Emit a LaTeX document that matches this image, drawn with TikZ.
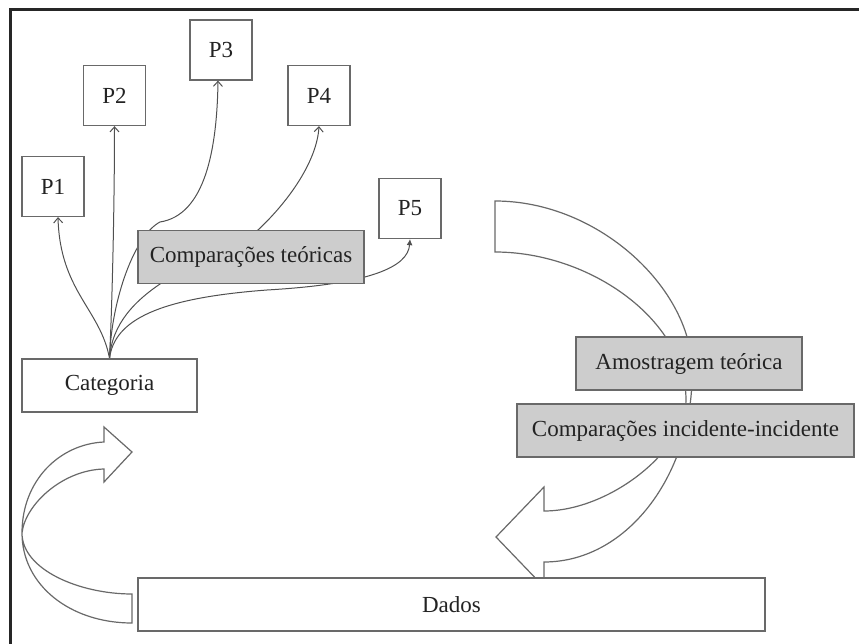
\documentclass[tikz,border=0pt]{standalone}
\usepackage{fontspec}
\setmainfont{Liberation Serif}
\usetikzlibrary{arrows.meta}
\definecolor{edge}{RGB}{105,105,105}
\definecolor{wire}{RGB}{80,80,80}
\definecolor{shade}{RGB}{205,205,205}
\definecolor{ink}{RGB}{35,35,35}
\pgfdeclarelayer{back}
\pgfsetlayers{back,main}
\begin{document}
\begin{tikzpicture}[x=1pt,y=-1pt,
  box/.style={draw=edge,line width=1.3pt,fill=white,inner sep=0pt,text=ink,
    font=\fontsize{23}{27}\selectfont},
  pbox/.style={box,minimum width=62pt,minimum height=60pt},
  graybox/.style={box,fill=shade,minimum height=53pt},
  link/.style={draw=wire,line width=1pt},
  tipopen/.style={-{Straight Barb[length=5pt,width=9pt]}},
  tipfull/.style={-{Latex[length=6pt,width=6pt]}},
  band/.style={draw=edge,line width=1.2pt,line join=miter}
]
\useasboundingbox (0,0) rectangle (859,644);

% frame
\draw[line width=2.2pt,black!85] (10.5,660) -- (10.5,9.5) -- (870,9.5);

% boxes
\node[pbox] (p1) at (53,186.5) {P1};
\node[pbox] (p2) at (114.5,95.5) {P2};
\node[pbox] (p3) at (221,50) {P3};
\node[pbox] (p4) at (319,95.5) {P4};
\node[pbox] (p5) at (410,208.5) {P5};
\node[graybox,minimum width=226pt] (ct) at (251,257) {Comparações teóricas};
\node[box,minimum width=175pt,minimum height=53pt] (cat) at (109.5,385.5) {Categoria};
\node[graybox,minimum width=226pt] (amo) at (689,363.5) {Amostragem teórica};
\node[graybox,minimum width=337pt] (cii) at (685.5,430.5) {Comparações incidente-incidente};
\node[box,minimum width=627pt,minimum height=53pt] (dados) at (451.5,604.5) {Dados};

\begin{pgfonlayer}{back}
  % bend points of the longer connectors
  \coordinate (k3) at (160,222);
  \coordinate (k4) at (258,230);
  \coordinate (k5) at (267,290);

  % connectors from the category to the properties
  \draw[link,tipopen] (cat.north) .. controls +(-9,-49) and +(2,74) .. ([xshift=5pt]p1.south);
  \draw[link,tipopen] (cat.north) .. controls +(3,-60) and +(0,70) .. (p2.south);
  \draw[link] (cat.north) .. controls +(2,-60) and +(-25,13) .. (k3);
  \draw[link,tipopen] (k3) .. controls +(45,-7) and +(-1,69) .. ([xshift=-3pt]p3.south);
  \draw[link] (cat.north) .. controls +(5,-69) and +(-58,35) .. (k4);
  \draw[link,tipopen] (k4) .. controls +(32,-30) and +(-2,34) .. (p4.south);
  \draw[link] (cat.north) .. controls +(5,-39) and +(-107,8) .. (k5);
  \draw[link,tipfull] (k5) .. controls +(103,-6) and +(-2,28) .. (p5.south);

  % curved block arrow on the right
  \draw[band,fill=white] (495,201) .. controls (600,201) and (692,290) .. (692,370)
    .. controls (694,470) and (630,562) .. (544,562)
    -- (544,587) -- (496,537) -- (544,487) -- (544,511)
    .. controls (610,511) and (686,450) .. (686,400)
    .. controls (686,320) and (590,252) .. (495,252) -- cycle;

  % curved block arrow on the left
  \draw[band,fill=white] (104,442) .. controls (60,444) and (22,480) .. (22,533)
    .. controls (22,585) and (70,623) .. (132,623)
    -- (132,594) .. controls (80,594) and (22,570) .. (22,533)
    .. controls (25,505) and (62,470) .. (104,469)
    -- (104,482) -- (132,452) -- (104,427) -- cycle;
\end{pgfonlayer}
\end{tikzpicture}
\end{document}
